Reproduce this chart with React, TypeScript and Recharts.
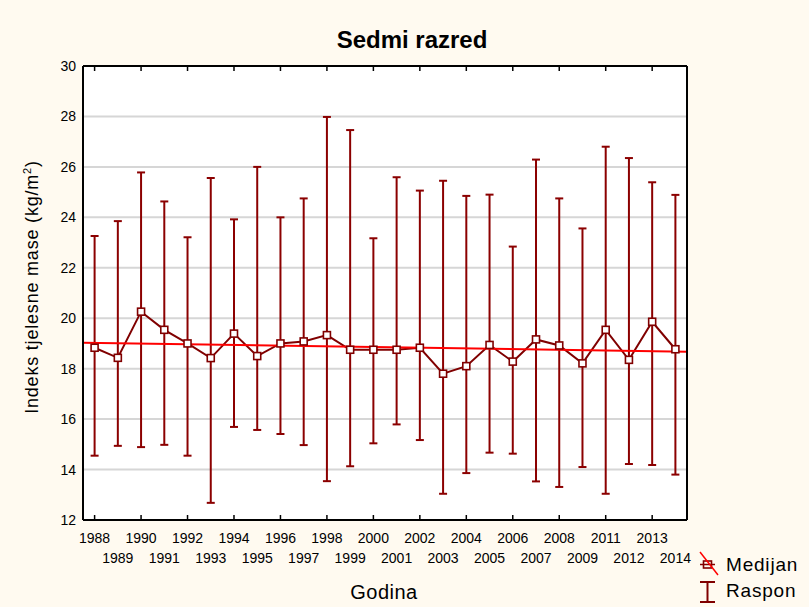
import { ComposedChart, Line, XAxis, YAxis, CartesianGrid, ErrorBar, ReferenceLine } from 'recharts'

const years = [
  '1988', '1989', '1990', '1991', '1992', '1993', '1994', '1995', '1996', '1997',
  '1998', '1999', '2000', '2001', '2002', '2003', '2004', '2005', '2006', '2007',
  '2008', '2009', '2011', '2012', '2013', '2014',
]
const medijan = [
  18.83, 18.43, 20.26, 19.54, 19.0, 18.42, 19.39, 18.5, 19.0, 19.08,
  19.33, 18.75, 18.75, 18.75, 18.83, 17.8, 18.1, 18.94, 18.28, 19.16,
  18.92, 18.21, 19.54, 18.35, 19.86, 18.77,
]
const maxVal = [
  23.26, 23.85, 25.78, 24.63, 23.21, 25.56, 23.92, 26.0, 24.0, 24.75,
  27.98, 27.46, 23.17, 25.59, 25.06, 25.45, 24.85, 24.9, 22.84, 26.29,
  24.75, 23.56, 26.8, 26.35, 25.39, 24.89,
]
const minVal = [
  14.55, 14.94, 14.89, 14.98, 14.55, 12.68, 15.69, 15.57, 15.41, 14.97,
  13.54, 14.13, 15.04, 15.79, 15.17, 13.04, 13.86, 14.67, 14.63, 13.53,
  13.31, 14.1, 13.04, 14.22, 14.18, 13.8,
]
const yTicks = [12, 14, 16, 18, 20, 22, 24, 26, 28, 30]
// linear trend, value at left and right edge of plot
const trendStart = 19.03
const trendEnd = 18.67

const data = years.map((year, i) => ({
  year,
  median: medijan[i],
  range: [medijan[i] - minVal[i], maxVal[i] - medijan[i]],
}))

const FONT = 'Arial, "Liberation Sans", sans-serif'
const DARK = '#800000'
const PAD = { left: 11.6, right: 11.6 }

// eslint-disable-next-line @typescript-eslint/no-explicit-any
function BottomTick({ x, y, payload, index }: any) {
  const odd = index % 2 === 1
  return (
    <g>
      {!odd && <line x1={x} x2={x} y1={y} y2={y - 5} stroke="#000" strokeWidth={1.5} />}
      <text x={x} y={y + (odd ? 43 : 23)} textAnchor="middle" fontSize={14} fontFamily={FONT} fill="#000">
        {payload.value}
      </text>
    </g>
  )
}

// eslint-disable-next-line @typescript-eslint/no-explicit-any
function TopTick({ x, y, index }: any) {
  if (index % 2 === 1) return <g />
  return <line x1={x} x2={x} y1={y} y2={y + 5} stroke="#000" strokeWidth={1.5} />
}

// eslint-disable-next-line @typescript-eslint/no-explicit-any
function LeftTick({ x, y, payload }: any) {
  return (
    <text x={x - 7} y={y + 5} textAnchor="end" fontSize={14} fontFamily={FONT} fill="#000">
      {payload.value}
    </text>
  )
}

// eslint-disable-next-line @typescript-eslint/no-explicit-any
function RightTick({ x, y }: any) {
  return <line x1={x} x2={x - 5} y1={y} y2={y} stroke="#000" strokeWidth={1.5} />
}

// eslint-disable-next-line @typescript-eslint/no-explicit-any
function SquareDot({ cx, cy, index }: any) {
  return (
    <rect key={`d${index}`} x={cx - 3.5} y={cy - 3.5} width={7} height={7}
      fill="#fff" stroke={DARK} strokeWidth={1.6} />
  )
}

export default function App() {
  return (
    <div style={{ position: 'fixed', left: 0, top: 0, width: 809, height: 607, background: '#fffaf0' }}>
      <ComposedChart width={809} height={607} data={data} margin={{ top: 65, right: 0, left: 0, bottom: 0 }}>
        <CartesianGrid vertical={false} stroke="#d6d6d6" strokeWidth={2} fill="#ffffff" fillOpacity={1} />
        <XAxis dataKey="year" interval={0} height={87} tickSize={0} tickMargin={0} padding={PAD}
          axisLine={{ stroke: '#000', strokeWidth: 2 }} tickLine={false} tick={<BottomTick />} />
        <XAxis xAxisId="top" dataKey="year" orientation="top" interval={0} height={1} tickSize={0} tickMargin={0}
          padding={PAD} axisLine={{ stroke: '#000', strokeWidth: 2 }} tickLine={false} tick={<TopTick />} />
        <XAxis xAxisId="trend" type="number" dataKey="t" domain={[0, 1]} allowDataOverflow hide />
        <YAxis domain={[12, 30]} ticks={yTicks} width={83} tickSize={0} tickMargin={0}
          axisLine={{ stroke: '#000', strokeWidth: 2 }} tickLine={false} tick={<LeftTick />} />
        <YAxis yAxisId="right" orientation="right" domain={[12, 30]} ticks={yTicks} width={122} tickSize={0} tickMargin={0}
          axisLine={{ stroke: '#000', strokeWidth: 2 }} tickLine={false} tick={<RightTick />} />
        <Line dataKey="median" stroke={DARK} strokeWidth={2} dot={SquareDot} activeDot={false}
          isAnimationActive={false}>
          <ErrorBar dataKey="range" width={4} stroke="#8b0000" strokeWidth={2} isAnimationActive={false} />
        </Line>
        <ReferenceLine xAxisId="trend" segment={[{ x: 0, y: trendStart }, { x: 1, y: trendEnd }]}
          stroke="#ff0000" strokeWidth={2} ifOverflow="visible" />
      </ComposedChart>
      <svg width={809} height={607} style={{ position: 'absolute', left: 0, top: 0, pointerEvents: 'none' }}>
        <text x={412} y={48} textAnchor="middle" fontSize={24} fontWeight="bold" fontFamily={FONT} fill="#000">
          Sedmi razred
        </text>
        <text transform="translate(37.5,287) rotate(-90)" textAnchor="middle" fontSize={18} letterSpacing={0.8}
          fontFamily={FONT} fill="#000">
          <tspan>Indeks tjelesne mase (kg/m</tspan>
          <tspan dy={-7} fontSize={11}>2</tspan>
          <tspan dy={7}>)</tspan>
        </text>
        <text x={384} y={599} textAnchor="middle" fontSize={20} letterSpacing={0.5} fontFamily={FONT} fill="#000">
          Godina
        </text>
        <line x1={700} x2={715} y1={564.5} y2={564.5} stroke={DARK} strokeWidth={1.5} />
        <rect x={703.5} y={561} width={8} height={7} fill="none" stroke={DARK} strokeWidth={1.6} />
        <line x1={700} x2={718} y1={552} y2={575} stroke="#ff0000" strokeWidth={1.5} />
        <text x={726} y={571} fontSize={19} letterSpacing={0.8} fontFamily={FONT} fill="#000">Medijan</text>
        <line x1={707.5} x2={707.5} y1={582} y2={602} stroke={DARK} strokeWidth={2} />
        <line x1={700} x2={715} y1={582} y2={582} stroke={DARK} strokeWidth={2} />
        <line x1={700} x2={715} y1={602} y2={602} stroke={DARK} strokeWidth={2} />
        <text x={726} y={597} fontSize={19} letterSpacing={0.8} fontFamily={FONT} fill="#000">Raspon</text>
      </svg>
    </div>
  )
}
